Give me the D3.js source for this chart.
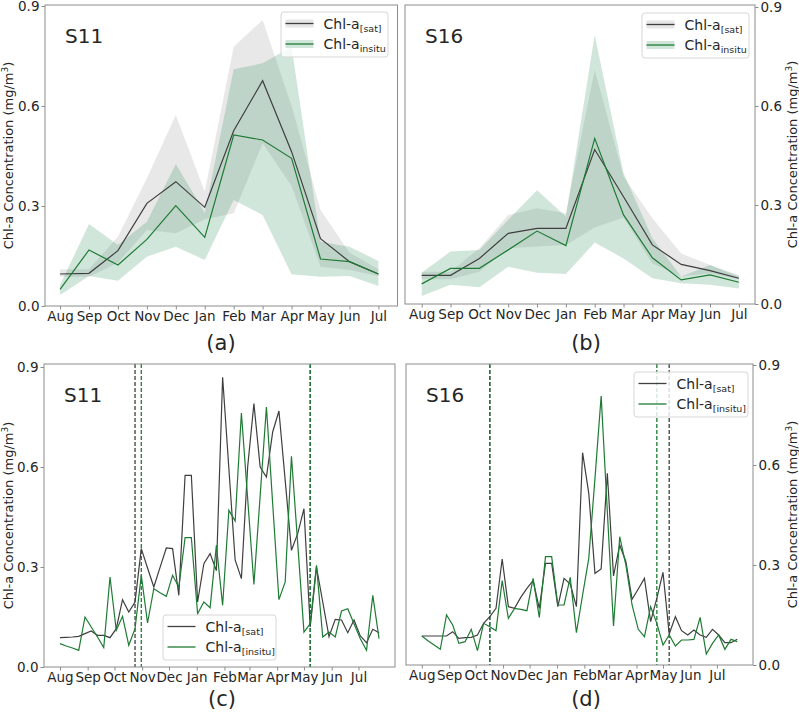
<!DOCTYPE html>
<html><head><meta charset="utf-8">
<script src="https://cdn.jsdelivr.net/npm/d3@7"></script>
<style>
body{margin:0;background:#fff}
svg{display:block}
text{font-family:"DejaVu Sans",sans-serif;fill:#262626}
</style>
</head><body>
<svg id="chart" width="799" height="714"></svg>
<script>
// ---------------- DATA ----------------
const months = ["Aug","Sep","Oct","Nov","Dec","Jan","Feb","Mar","Apr","May","Jun","Jul"];
const yTicks = [0.0, 0.3, 0.6, 0.9];

// Monthly climatology, station S11
const s11SatMean = [0.096,0.098,0.166,0.308,0.373,0.296,0.526,0.676,0.463,0.202,0.133,0.096];
const s11SatLo   = [0.088,0.088,0.130,0.228,0.218,0.260,0.278,0.488,0.360,0.118,0.108,0.090];
const s11SatHi   = [0.110,0.110,0.208,0.383,0.573,0.343,0.778,0.858,0.600,0.288,0.160,0.110];
const s11InsMean = [0.050,0.168,0.123,0.200,0.301,0.206,0.513,0.498,0.443,0.141,0.133,0.096];
const s11InsLo   = [0.033,0.090,0.076,0.148,0.178,0.138,0.318,0.273,0.095,0.088,0.090,0.060];
const s11InsHi   = [0.063,0.246,0.183,0.253,0.426,0.280,0.710,0.728,0.778,0.193,0.178,0.135];

// Monthly climatology, station S16
const s16SatMean = [0.087,0.087,0.138,0.214,0.229,0.229,0.468,0.325,0.179,0.120,0.101,0.078];
const s16SatLo   = [0.075,0.075,0.098,0.169,0.174,0.179,0.232,0.262,0.123,0.083,0.093,0.075];
const s16SatHi   = [0.098,0.098,0.169,0.270,0.290,0.275,0.709,0.386,0.260,0.153,0.118,0.088];
const s16InsMean = [0.061,0.108,0.108,0.164,0.221,0.177,0.502,0.270,0.140,0.073,0.088,0.066];
const s16InsLo   = [0.024,0.058,0.051,0.113,0.095,0.091,0.186,0.138,0.078,0.063,0.058,0.047];
const s16InsHi   = [0.095,0.159,0.164,0.255,0.345,0.265,0.815,0.396,0.199,0.083,0.118,0.083];

// Weekly series (52 weeks from 1 Aug)
const s11SatWeekly = [0.088,0.089,0.090,0.092,0.100,0.108,0.095,0.095,0.088,0.115,0.202,0.165,0.195,0.355,0.297,0.240,0.299,0.357,0.355,0.215,0.575,0.575,0.195,0.310,0.340,0.289,0.869,0.595,0.321,0.265,0.600,0.790,0.600,0.570,0.705,0.768,0.560,0.350,0.400,0.475,0.120,0.300,0.195,0.091,0.143,0.141,0.103,0.141,0.093,0.073,0.113,0.103];
const s11InsWeekly = [0.070,0.063,0.057,0.050,0.150,0.120,0.090,0.058,0.270,0.110,0.152,0.065,0.115,0.275,0.132,0.235,0.223,0.212,0.275,0.240,0.388,0.388,0.160,0.195,0.178,0.365,0.185,0.470,0.438,0.762,0.505,0.248,0.514,0.780,0.490,0.202,0.255,0.632,0.370,0.105,0.130,0.305,0.090,0.105,0.090,0.168,0.175,0.130,0.085,0.050,0.215,0.085];
const s16SatWeekly = [0.087,0.087,0.087,0.087,0.087,0.100,0.080,0.082,0.083,0.090,0.125,0.145,0.170,0.318,0.175,0.170,0.203,0.230,0.253,0.170,0.305,0.305,0.175,0.260,0.243,0.175,0.637,0.515,0.275,0.288,0.575,0.267,0.360,0.310,0.197,0.228,0.260,0.130,0.200,0.278,0.093,0.145,0.103,0.090,0.105,0.090,0.083,0.107,0.090,0.067,0.067,0.077];
const s16InsWeekly = [0.087,0.073,0.060,0.047,0.150,0.120,0.065,0.070,0.107,0.043,0.125,0.115,0.103,0.253,0.140,0.170,0.167,0.163,0.260,0.143,0.325,0.325,0.180,0.180,0.263,0.097,0.210,0.320,0.560,0.807,0.460,0.117,0.385,0.300,0.180,0.107,0.085,0.175,0.125,0.060,0.090,0.057,0.075,0.075,0.077,0.143,0.033,0.065,0.090,0.047,0.077,0.070];

// Bloom start / end (week index)
const s11SatBloom = [12, 40];
const s11InsBloom = [13, 40];
const s16SatBloom = [11, 40];
const s16InsBloom = [11, 38];

// ---------------- STYLE ----------------
const SAT = "#3f3f3f", INS = "#1e7b34";
const SAT_BAND = "#8a8d92", INS_BAND = "#2e8b57";
const SPINE = "#8c8c8c";

const svg = d3.select("#chart");
const weekStart = new Date(Date.UTC(2018, 7, 1));
const weekDates = d3.range(s11SatWeekly.length).map(i => d3.utcDay.offset(weekStart, 7 * i));
const monthTicks = d3.utcMonth.range(new Date(Date.UTC(2018, 7, 1)), new Date(Date.UTC(2019, 7, 1)));

function frame(g, c) {
  g.append("rect").attr("x", c.left).attr("y", c.top)
    .attr("width", c.right - c.left).attr("height", c.bottom - c.top)
    .attr("fill", "none").attr("stroke", SPINE).attr("stroke-width", 1);
}

function styleAxis(a) {
  a.attr("font-family", null).attr("font-size", null);
  a.select(".domain").remove();
  a.selectAll(".tick line").attr("stroke", SPINE);
  a.selectAll(".tick text").attr("font-size", 13.5).attr("fill", "#262626");
}

function axes(g, c, x, xTickVals, xFmt, y) {
  const ax = g.append("g").attr("transform", `translate(0,${c.bottom})`)
    .call(d3.axisBottom(x).tickValues(xTickVals).tickFormat(xFmt).tickSize(3.5).tickPadding(2));
  styleAxis(ax);
  let ay;
  if (c.rightAxis) {
    ay = g.append("g").attr("transform", `translate(${c.right},0)`)
      .call(d3.axisRight(y).tickValues(yTicks).tickFormat(d3.format(".1f")).tickSize(3.5).tickPadding(2));
  } else {
    ay = g.append("g").attr("transform", `translate(${c.left},0)`)
      .call(d3.axisLeft(y).tickValues(yTicks).tickFormat(d3.format(".1f")).tickSize(3.5).tickPadding(2));
  }
  styleAxis(ay);
  const lx = c.rightAxis ? 796.5 : 13;
  const cy = (c.top + c.bottom) / 2;
  const t = g.append("text").attr("transform", `translate(${lx},${cy}) rotate(-90)`)
    .attr("text-anchor", "middle").attr("font-size", 13);
  t.append("tspan").text("Chl-a Concentration (mg/m");
  t.append("tspan").attr("font-size", 9).attr("dy", -5).text("3");
  t.append("tspan").attr("dy", 5).text(")");
  g.append("text").attr("x", c.left + 20).attr("y", c.top + 38).attr("font-size", 20).text(c.station);
  g.append("text").attr("x", c.panelX).attr("y", c.panelY).attr("text-anchor", "middle")
    .attr("font-size", 21).text(c.panel);
}

function legend(g, L, entries) {
  const lg = g.append("g").attr("transform", `translate(${L.x},${L.y})`);
  lg.append("rect").attr("width", L.w).attr("height", 45).attr("rx", 3)
    .attr("fill", "#fff").attr("fill-opacity", 0.8).attr("stroke", "#d6d6d6");
  entries.forEach((e, k) => {
    const cy = 11.5 + 20.5 * k;
    if (e.band) {
      lg.append("rect").attr("x", 4.5).attr("y", cy - 4).attr("width", 28).attr("height", 8)
        .attr("fill", e.band).attr("fill-opacity", 0.22);
    }
    lg.append("line").attr("x1", 4.5).attr("x2", 32.5).attr("y1", cy).attr("y2", cy)
      .attr("stroke", e.color).attr("stroke-width", 1.3);
    const t = lg.append("text").attr("x", 42.5).attr("y", cy + 5).attr("font-size", 14);
    t.append("tspan").text("Chl-a");
    t.append("tspan").attr("font-size", 9.5).attr("dy", 3).text(e.sub);
  });
}

function monthlyPanel(c) {
  const g = svg.append("g");
  const idx = d3.range(months.length);
  const x = d3.scaleLinear().domain(c.xDom).range([c.left, c.right]);
  const y = d3.scaleLinear().domain([0, 0.9]).range([c.bottom, c.y09]);
  const area = (lo, hi) => d3.area().x(i => x(i)).y0(i => y(lo[i])).y1(i => y(hi[i]));
  const line = v => d3.line().x(i => x(i)).y(i => y(v[i]));
  g.append("path").attr("d", area(c.satLo, c.satHi)(idx)).attr("fill", SAT_BAND).attr("fill-opacity", 0.2);
  g.append("path").attr("d", area(c.insLo, c.insHi)(idx)).attr("fill", INS_BAND).attr("fill-opacity", 0.22);
  g.append("path").attr("d", line(c.satMean)(idx)).attr("fill", "none").attr("stroke", SAT).attr("stroke-width", 1.2);
  g.append("path").attr("d", line(c.insMean)(idx)).attr("fill", "none").attr("stroke", INS).attr("stroke-width", 1.2);
  frame(g, c);
  axes(g, c, x, idx, i => months[i], y);
  legend(g, c.legend, [
    {color: SAT, band: SAT_BAND, sub: "[sat]"},
    {color: INS, band: INS_BAND, sub: "insitu"}
  ]);
}

function weeklyPanel(c) {
  const g = svg.append("g");
  const idx = d3.range(weekDates.length);
  const t0 = weekDates[0], t1 = weekDates[weekDates.length - 1];
  const pad = (t1 - t0) * 0.05;
  const x = d3.scaleUtc().domain([new Date(+t0 - pad), new Date(+t1 + pad)]).range([c.left, c.right]);
  const y = d3.scaleLinear().domain([0, 0.9]).range([c.bottom, c.y09]);
  const line = v => d3.line().x(i => x(weekDates[i])).y(i => y(v[i]));
  const marks = [];
  c.satBloom.forEach(i => marks.push({i, color: SAT, w: 1.3}));
  c.insBloom.forEach(i => marks.push({i, color: INS, w: 1.3}));
  marks.forEach(m => {
    g.append("line").attr("x1", x(weekDates[m.i])).attr("x2", x(weekDates[m.i]))
      .attr("y1", c.top).attr("y2", c.bottom)
      .attr("stroke", m.color).attr("stroke-width", m.w).attr("stroke-dasharray", "4,2");
  });
  g.append("path").attr("d", line(c.sat)(idx)).attr("fill", "none").attr("stroke", SAT).attr("stroke-width", 1.2);
  g.append("path").attr("d", line(c.ins)(idx)).attr("fill", "none").attr("stroke", INS).attr("stroke-width", 1.2);
  frame(g, c);
  axes(g, c, x, monthTicks, (d, k) => months[k], y);
  legend(g, c.legend, [
    {color: SAT, sub: "[sat]"},
    {color: INS, sub: "[insitu]"}
  ]);
}

monthlyPanel({
  left: 45, right: 397.5, top: 5, bottom: 306, y09: 6, xDom: [-0.52, 11.66],
  satMean: s11SatMean, satLo: s11SatLo, satHi: s11SatHi,
  insMean: s11InsMean, insLo: s11InsLo, insHi: s11InsHi,
  station: "S11", panel: "(a)", panelX: 221, panelY: 350,
  legend: {x: 281, y: 12, w: 107}
});
monthlyPanel({
  left: 405, right: 755, top: 5, bottom: 304, y09: 7, xDom: [-0.58, 11.56], rightAxis: true,
  satMean: s16SatMean, satLo: s16SatLo, satHi: s16SatHi,
  insMean: s16InsMean, insLo: s16InsLo, insHi: s16InsHi,
  station: "S16", panel: "(b)", panelX: 586, panelY: 350,
  legend: {x: 642, y: 13, w: 107}
});
weeklyPanel({
  left: 44, right: 395, top: 364, bottom: 667, y09: 367,
  sat: s11SatWeekly, ins: s11InsWeekly, satBloom: s11SatBloom, insBloom: s11InsBloom,
  station: "S11", panel: "(c)", panelX: 222, panelY: 706,
  legend: {x: 163, y: 615, w: 113}
});
weeklyPanel({
  left: 406, right: 753, top: 364, bottom: 665, y09: 365, rightAxis: true,
  sat: s16SatWeekly, ins: s16InsWeekly, satBloom: s16SatBloom, insBloom: s16InsBloom,
  station: "S16", panel: "(d)", panelX: 586, panelY: 706,
  legend: {x: 634, y: 372, w: 114}
});
</script>
</body></html>
